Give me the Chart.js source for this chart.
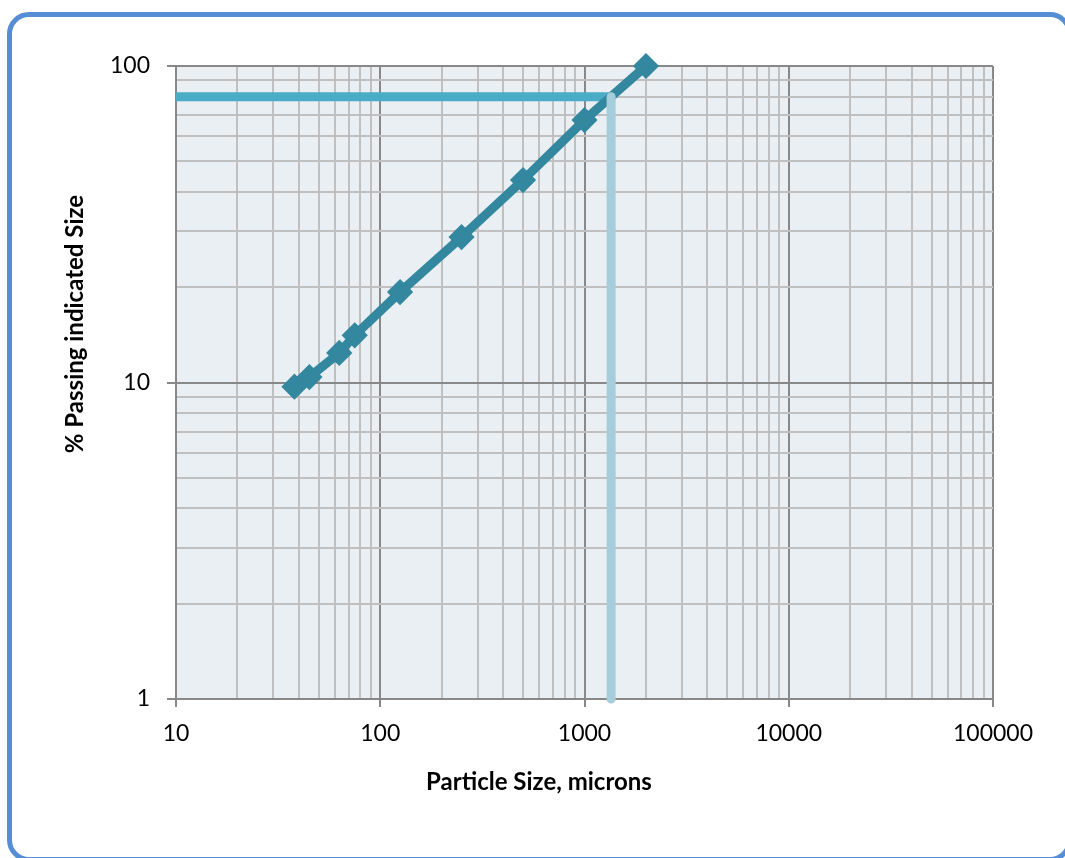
<!DOCTYPE html>
<html lang="en">
<head>
<meta charset="UTF-8">
<title>Particle Size Distribution</title>
<script src="https://cdn.jsdelivr.net/npm/chart.js"></script>
<style>
    html, body {
        margin: 0;
        padding: 0;
        background: #fff;
    }
    .wrap {
        position: relative;
        width: 1065px;
        height: 858px;
        overflow: hidden;
    }
    .frame {
        position: absolute;
        left: 7px;
        top: 12px;
        width: 1065px;
        height: 850px;
        box-sizing: border-box;
        border: 5px solid #558ed5;
        border-radius: 22px;
    }
    canvas {
        position: absolute;
        left: 0;
        top: 0;
    }
</style>
</head>
<body>
<div class="wrap">
    <div class="frame"></div>
    <canvas id="psd" width="1065" height="858"></canvas>
</div>

<script>
    // sieve sizes (microns) and cumulative % passing
    const sizes = [38, 45, 63, 75, 125, 250, 500, 1000, 2000];
    const passing = [9.7, 10.4, 12.4, 14.1, 19.3, 28.8, 43.6, 67.5, 100];

    // P80 marker
    const p80Size = 1350;
    const p80Pct = 80;

    const xMajor = [10, 100, 1000, 10000, 100000];
    const yMajor = [1, 10, 100];

    const xTitle = 'Particle Size, microns';
    const yTitle = '% Passing indicated Size';

    // 1..9 x each decade, up to the last major value
    function logTicks(majors) {
        let out = [];
        for (let i = 0; i < majors.length - 1; i++) {
            for (let m = 1; m < 10; m++) out.push(majors[i] * m);
        }
        out.push(majors[majors.length - 1]);
        return out;
    }
    const isMajor = v => Math.abs(Math.log10(v) - Math.round(Math.log10(v))) < 1e-9;

    const plotBg = {
        id: 'plotBg',
        beforeDraw(chart) {
            const a = chart.chartArea;
            const ctx = chart.ctx;
            ctx.save();
            ctx.fillStyle = '#e9eff3';
            ctx.fillRect(a.left, a.top, a.right - a.left, a.bottom - a.top);
            ctx.restore();
        }
    };

    // Excel places these titles off-centre, so draw them by hand
    const axisTitles = {
        id: 'axisTitles',
        afterDraw(chart) {
            const ctx = chart.ctx;
            ctx.save();
            ctx.font = 'bold 24px Lato';
            ctx.fillStyle = '#000';
            ctx.textAlign = 'center';
            ctx.textBaseline = 'middle';
            ctx.fillText(xTitle, 539, 782);
            ctx.translate(75, 324);
            ctx.rotate(-Math.PI / 2);
            ctx.fillText(yTitle, 0, 0);
            ctx.restore();
        }
    };

    const gridColor = ctx => isMajor(ctx.tick.value) ? '#888888' : '#c0c0c0';
    const tickColor = ctx => isMajor(ctx.tick.value) ? '#888888' : 'rgba(0,0,0,0)';

    new Chart(document.getElementById('psd'), {
        type: 'line',
        data: {
            datasets: [
                {
                    label: 'P80 vertical',
                    data: [{x: p80Size, y: p80Pct}, {x: p80Size, y: yMajor[0]}],
                    borderColor: '#a5cddb',
                    borderWidth: 9,
                    borderCapStyle: 'round',
                    pointRadius: 0,
                    clip: 5
                },
                {
                    label: 'Passing',
                    data: sizes.map((s, i) => ({x: s, y: passing[i]})),
                    borderColor: '#33879f',
                    backgroundColor: '#33879f',
                    borderWidth: 9,
                    pointStyle: 'rectRot',
                    pointRadius: 11,
                    pointBorderWidth: 3,
                    pointBorderColor: '#33879f',
                    pointBackgroundColor: '#33879f',
                    clip: false
                },
                {
                    label: 'P80 horizontal',
                    data: [{x: xMajor[0], y: p80Pct}, {x: p80Size, y: p80Pct}],
                    borderColor: '#4bacc6',
                    borderWidth: 9,
                    borderCapStyle: 'butt',
                    pointRadius: 0
                }
            ]
        },
        options: {
            responsive: false,
            animation: false,
            layout: {
                padding: {top: 66, right: 72, left: 0, bottom: 0}
            },
            plugins: {
                legend: {display: false},
                tooltip: {enabled: false}
            },
            scales: {
                x: {
                    type: 'logarithmic',
                    min: xMajor[0],
                    max: xMajor[xMajor.length - 1],
                    afterBuildTicks: s => { s.ticks = logTicks(xMajor).map(v => ({value: v})); },
                    afterFit: s => { s.height = 159; },
                    grid: {
                        color: gridColor,
                        lineWidth: 2,
                        tickColor: tickColor,
                        tickLength: 8,
                        tickWidth: 2
                    },
                    border: {color: '#888888', width: 2},
                    ticks: {
                        autoSkip: false,
                        maxRotation: 0,
                        padding: 13,
                        color: '#000',
                        font: {family: 'Lato', size: 23},
                        callback: v => isMajor(v) ? String(v) : ''
                    }
                },
                y: {
                    type: 'logarithmic',
                    min: yMajor[0],
                    max: yMajor[yMajor.length - 1],
                    afterBuildTicks: s => { s.ticks = logTicks(yMajor).map(v => ({value: v})); },
                    afterFit: s => { s.width = 176; },
                    grid: {
                        color: gridColor,
                        lineWidth: 2,
                        tickColor: tickColor,
                        tickLength: 9,
                        tickWidth: 2
                    },
                    border: {color: '#888888', width: 2},
                    ticks: {
                        autoSkip: false,
                        padding: 17,
                        color: '#000',
                        font: {family: 'Lato', size: 23},
                        callback: v => isMajor(v) ? String(v) : ''
                    }
                }
            }
        },
        plugins: [plotBg, axisTitles]
    });
</script>
</body>
</html>
